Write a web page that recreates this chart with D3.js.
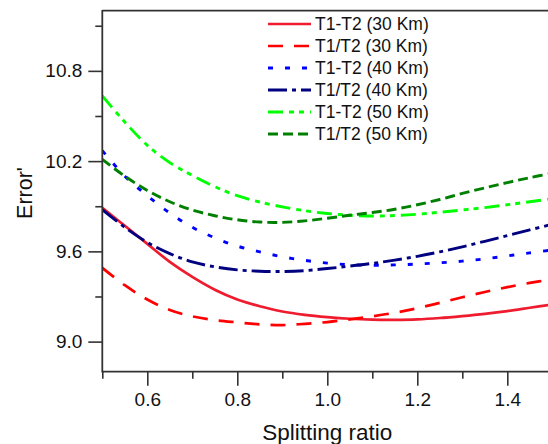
<!DOCTYPE html>
<html><head><meta charset="utf-8">
<script src="https://cdn.jsdelivr.net/npm/d3@7/dist/d3.min.js"></script>
<style>
body{margin:0;background:#fff;}
text{font-family:Arial,"Liberation Sans",sans-serif;fill:#111;}
</style></head>
<body><svg id="c" width="548" height="444"></svg>
<script>
const ratios = [0.50,0.55,0.60,0.65,0.70,0.75,0.80,0.85,0.90,0.95,1.00,1.05,1.10,1.15,1.20,1.25,1.30,1.35,1.40,1.45,1.50];
const t1MinusT2_30 = [9.89,9.77,9.65,9.53,9.43,9.345,9.28,9.235,9.20,9.178,9.163,9.152,9.146,9.145,9.148,9.157,9.17,9.185,9.203,9.225,9.247];
const t1OverT2_30  = [9.49,9.375,9.28,9.21,9.168,9.143,9.128,9.115,9.11,9.118,9.13,9.148,9.168,9.192,9.222,9.258,9.295,9.33,9.362,9.39,9.415];
const t1MinusT2_40 = [10.27,10.10,9.97,9.855,9.76,9.69,9.635,9.597,9.564,9.54,9.522,9.511,9.508,9.51,9.516,9.524,9.535,9.55,9.57,9.59,9.61];
const t1OverT2_40  = [9.878,9.76,9.66,9.585,9.53,9.497,9.477,9.468,9.466,9.472,9.486,9.502,9.52,9.542,9.567,9.597,9.63,9.667,9.705,9.743,9.78];
const t1MinusT2_50 = [10.633,10.46,10.305,10.19,10.105,10.03,9.97,9.928,9.896,9.87,9.852,9.84,9.835,9.838,9.847,9.86,9.875,9.891,9.91,9.93,9.95];
const t1OverT2_50  = [10.211,10.10,10.005,9.93,9.875,9.837,9.81,9.795,9.793,9.803,9.82,9.84,9.858,9.88,9.91,9.945,9.985,10.022,10.057,10.09,10.12];
const seriesNames = ["T1-T2 (30 Km)","T1/T2 (30 Km)","T1-T2 (40 Km)","T1/T2 (40 Km)","T1-T2 (50 Km)","T1/T2 (50 Km)"];
const xMajorTicks = [0.6,0.8,1.0,1.2,1.4];
const xMinorTicks = [0.5,0.7,0.9,1.1,1.3,1.5];
const yMajorTicks = [9.0,9.6,10.2,10.8];
const yMinorTicks = [9.3,9.9,10.5,11.1];

const seriesValues = [t1MinusT2_30,t1OverT2_30,t1MinusT2_40,t1OverT2_40,t1MinusT2_50,t1OverT2_50];
const styles = [
  {color:"#ee1c2e", dash:null, w:2.7},
  {color:"#ff0000", dash:"15,11", w:2.7},
  {color:"#0000ff", dash:"5,12", w:2.9},
  {color:"#000080", dash:"19,5,4,5", w:2.9},
  {color:"#00ff00", dash:"15,6,5,5,5,6", w:2.9},
  {color:"#008000", dash:"10,5", w:2.9}
];

const svg = d3.select("#c");
const L = 102.3, T = 10.7, B = 371.7;
const x = d3.scaleLinear().domain([0.5,1.5]).range([L, L+450]);
const y = d3.scaleLinear().domain([8.8,11.2]).range([B, T]);

svg.append("defs").append("clipPath").attr("id","clip")
  .append("rect").attr("x",L).attr("y",T).attr("width",450).attr("height",B-T);

const line = d3.line().x(d=>x(d[0])).y(d=>y(d[1])).curve(d3.curveCatmullRom.alpha(0.5));
const g = svg.append("g").attr("clip-path","url(#clip)");
seriesValues.forEach((vals,i)=>{
  const s = styles[i];
  g.append("path").datum(ratios.map((r,j)=>[r,vals[j]]))
    .attr("d",line).attr("fill","none").attr("stroke",s.color)
    .attr("stroke-width",s.w).attr("stroke-dasharray",s.dash);
});

// axes
function styleAxis(sel){
  sel.select(".domain").remove();
  sel.selectAll("line").attr("stroke","#333").attr("stroke-width",1.6);
  sel.selectAll("text").style("font-size","19px").style("font-family","Arial,'Liberation Sans',sans-serif").attr("fill","#111");
}
svg.append("g").attr("transform",`translate(0,${B})`)
  .call(d3.axisBottom(x).tickValues(xMajorTicks).tickSize(14).tickPadding(7).tickFormat(d3.format(".1f"))).call(styleAxis);
svg.append("g").attr("transform",`translate(0,${B})`)
  .call(d3.axisBottom(x).tickValues(xMinorTicks).tickSize(7).tickFormat("")).call(styleAxis);
svg.append("g").attr("transform",`translate(${L},0)`)
  .call(d3.axisLeft(y).tickValues(yMajorTicks).tickSize(14).tickPadding(6).tickFormat(d3.format(".1f"))).call(styleAxis);
svg.append("g").attr("transform",`translate(${L},0)`)
  .call(d3.axisLeft(y).tickValues(yMinorTicks).tickSize(7).tickFormat("")).call(styleAxis);

// frame lines
svg.append("line").attr("x1",L).attr("x2",L).attr("y1",T-0.8).attr("y2",B+0.8).attr("stroke","#333").attr("stroke-width",1.8);
svg.append("line").attr("x1",L).attr("x2",560).attr("y1",B).attr("y2",B).attr("stroke","#333").attr("stroke-width",1.8);
svg.append("line").attr("x1",L).attr("x2",560).attr("y1",T).attr("y2",T).attr("stroke","#333").attr("stroke-width",1.8);

// axis titles
svg.append("text").attr("x",x(1.0)).attr("y",440).attr("text-anchor","middle")
  .style("font-size","22.5px").text("Splitting ratio");
svg.append("text").attr("transform",`translate(32,${193}) rotate(-90)`).attr("text-anchor","middle")
  .style("font-size","21.5px").text("Error'");

// legend
const lg = svg.append("g");
seriesNames.forEach((n,i)=>{
  const yy = 24 + i*22;
  const s = styles[i];
  lg.append("line").attr("x1",268).attr("x2",311).attr("y1",yy).attr("y2",yy)
    .attr("stroke",s.color).attr("stroke-width",s.w).attr("stroke-dasharray",s.dash);
  lg.append("text").attr("x",315).attr("y",yy).attr("dy","0.36em").style("font-size","17.5px").text(n);
});
</script></body></html>
